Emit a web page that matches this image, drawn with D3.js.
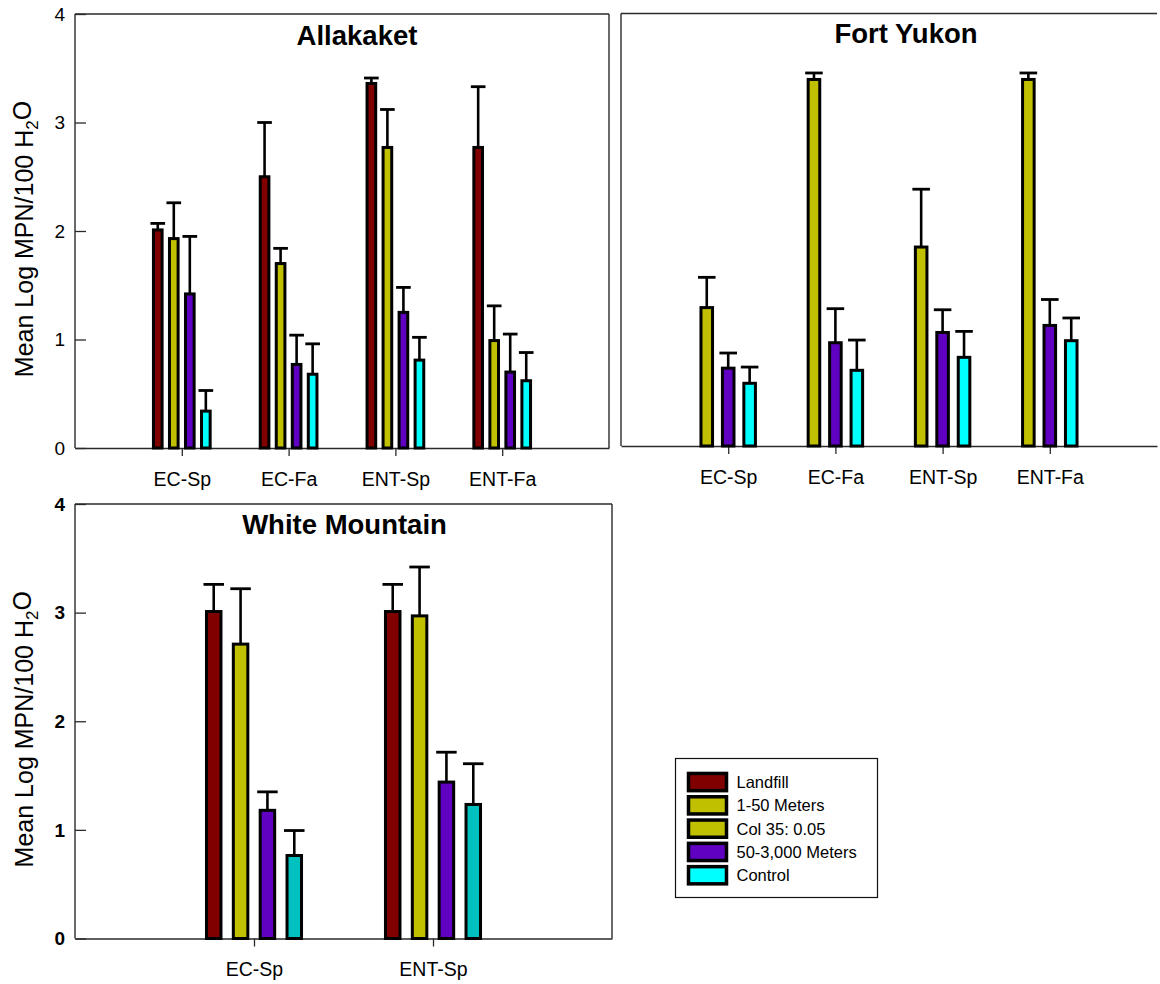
<!DOCTYPE html>
<html>
<head>
<meta charset="utf-8">
<script src="https://cdn.jsdelivr.net/npm/d3@7"></script>
<style>
  body { margin: 0; background: #fff; }
  svg { display: block; }
  text { font-family: "Liberation Sans", Arial, Helvetica, sans-serif; fill: #000; }
</style>
</head>
<body>
<svg id="chart" width="1160" height="984"></svg>
<script>
// ---- data ----
const seriesNames  = ["Landfill", "1-50 Meters", "Col 35: 0.05", "50-3,000 Meters", "Control"];
const seriesColors = ["#800000", "#c0c000", "#c0c000", "#6000c0", "#00ffff"];
const yTicks = [0, 1, 2, 3, 4];

const siteCategories = ["EC-Sp", "EC-Fa", "ENT-Sp", "ENT-Fa"];
const wmCategories   = ["EC-Sp", "ENT-Sp"];

// Allakaket: means and upper error
const allaLandfill    = [2.01, 2.50, 3.36, 2.77];
const allaLandfillErr = [0.06, 0.50, 0.05, 0.56];
const allaNear        = [1.93, 1.70, 2.77, 0.99];
const allaNearErr     = [0.33, 0.14, 0.35, 0.32];
const allaFar         = [1.42, 0.77, 1.25, 0.70];
const allaFarErr      = [0.53, 0.27, 0.23, 0.35];
const allaControl     = [0.34, 0.68, 0.81, 0.62];
const allaControlErr  = [0.19, 0.28, 0.21, 0.26];

// Fort Yukon
const fyNear        = [1.28, 3.39, 1.84, 3.39];
const fyNearErr     = [0.28, 0.06, 0.535, 0.06];
const fyFar         = [0.72, 0.955, 1.05, 1.115];
const fyFarErr      = [0.14, 0.315, 0.21, 0.24];
const fyControl     = [0.58, 0.70, 0.82, 0.974];
const fyControlErr  = [0.15, 0.28, 0.24, 0.21];

// White Mountain
const wmLandfill    = [3.01, 3.01];
const wmLandfillErr = [0.25, 0.25];
const wmNear        = [2.71, 2.97];
const wmNearErr     = [0.51, 0.45];
const wmFar         = [1.18, 1.44];
const wmFarErr      = [0.17, 0.275];
const wmControl     = [0.764, 1.234];
const wmControlErr  = [0.23, 0.375];

// ---- drawing ----
const svg = d3.select("#chart");
const FRAME = "#2a2a2a";

function drawPanel(p) {
  const g = svg.append("g");
  const y = d3.scaleLinear().domain([0, 4]).range([p.bottom, p.top]);
  const x = d3.scaleLinear().domain([0, p.categories.length + 1]).range([p.left, p.right]);
  const step = x(1) - x(0);
  const inner = d3.scaleBand()
    .domain(p.series.map(s => s.name))
    .range([-0.3 * step, 0.3 * step])
    .paddingInner(0.46).paddingOuter(0.23);
  const bw = inner.bandwidth();

  // frame
  g.append("line").attr("x1", p.left).attr("x2", p.right).attr("y1", p.top).attr("y2", p.top)
    .attr("stroke", FRAME).attr("stroke-width", 1.4);
  if (p.rightEdge) {
    g.append("line").attr("x1", p.right).attr("x2", p.right).attr("y1", p.top).attr("y2", p.bottom)
      .attr("stroke", FRAME).attr("stroke-width", 1.4);
  }

  // y axis: inward ticks
  const yAxis = d3.axisRight(y).tickValues(p.showYTicks ? yTicks : []).tickSize(11).tickFormat("");
  const ya = g.append("g").attr("transform", `translate(${p.left},0)`).call(yAxis);
  ya.select(".domain").attr("stroke", FRAME).attr("stroke-width", 1.4).attr("d", `M0,${p.top}V${p.bottom}`);
  ya.selectAll(".tick line").attr("stroke", FRAME).attr("stroke-width", 1.3);

  if (p.showYTicks) {
    g.selectAll("text.ylab").data(yTicks).join("text")
      .attr("class", "ylab")
      .attr("x", p.left - 10).attr("y", d => y(d)).attr("dy", "0.36em")
      .attr("text-anchor", "end")
      .style("font-size", "19px")
      .style("font-weight", p.boldTicks ? "bold" : "normal")
      .text(d => d);

    const lab = g.append("text")
      .attr("transform", `translate(${p.labelX},${(p.top + p.bottom) / 2 + 8}) rotate(-90)`)
      .attr("text-anchor", "middle")
      .style("font-size", "25px");
    lab.append("tspan").text("Mean Log MPN/100 H");
    lab.append("tspan").attr("dy", "0.3em").style("font-size", "17px").text("2");
    lab.append("tspan").attr("dy", "-0.3em").text("O");
  }

  // x axis: outward ticks at category positions
  const xAxis = d3.axisBottom(x)
    .tickValues(d3.range(1, p.categories.length + 1))
    .tickSize(8).tickSizeOuter(0).tickPadding(16)
    .tickFormat(i => p.categories[i - 1]);
  const xa = g.append("g").attr("transform", `translate(0,${p.bottom})`).call(xAxis);
  xa.select(".domain").attr("stroke", FRAME).attr("stroke-width", 1.4);
  xa.selectAll(".tick line").attr("stroke", FRAME).attr("stroke-width", 1.3);
  xa.selectAll(".tick text").style("font-size", "19.5px").style("font-family", "'Liberation Sans', Arial, sans-serif").attr("fill", "#000");

  // bars with upper error bars
  p.series.forEach(s => {
    const sg = g.append("g");
    s.values.forEach((v, i) => {
      const cx = x(i + 1) + inner(s.name) + bw / 2;
      const top = y(v + s.errors[i]);
      const capW = bw + 6;
      sg.append("line").attr("x1", cx).attr("x2", cx).attr("y1", y(v)).attr("y2", top)
        .attr("stroke", "#000").attr("stroke-width", 2.6);
      sg.append("line").attr("x1", cx - capW / 2).attr("x2", cx + capW / 2).attr("y1", top).attr("y2", top)
        .attr("stroke", "#000").attr("stroke-width", 2.8);
      sg.append("rect")
        .attr("x", cx - bw / 2).attr("y", y(v))
        .attr("width", bw).attr("height", y(0) - y(v))
        .attr("fill", s.color).attr("stroke", "#000").attr("stroke-width", 3);
    });
  });

  // title
  g.append("text").attr("x", p.titleX).attr("y", p.titleY)
    .attr("text-anchor", "middle")
    .style("font-size", "27.5px").style("font-weight", "bold")
    .text(p.title);
}

drawPanel({
  title: "Allakaket", titleX: 357, titleY: 45,
  left: 75, right: 609, top: 14, bottom: 448,
  rightEdge: true, showYTicks: true, boldTicks: false, labelX: 33,
  categories: siteCategories,
  series: [
    { name: seriesNames[0], color: seriesColors[0], values: allaLandfill, errors: allaLandfillErr },
    { name: seriesNames[1], color: seriesColors[1], values: allaNear,     errors: allaNearErr },
    { name: seriesNames[3], color: seriesColors[3], values: allaFar,      errors: allaFarErr },
    { name: seriesNames[4], color: seriesColors[4], values: allaControl,  errors: allaControlErr }
  ]
});

drawPanel({
  title: "Fort Yukon", titleX: 906, titleY: 43,
  left: 621, right: 1157, top: 13.5, bottom: 446,
  rightEdge: false, showYTicks: false,
  categories: siteCategories,
  series: [
    { name: seriesNames[1], color: seriesColors[1], values: fyNear,    errors: fyNearErr },
    { name: seriesNames[3], color: seriesColors[3], values: fyFar,     errors: fyFarErr },
    { name: seriesNames[4], color: seriesColors[4], values: fyControl, errors: fyControlErr }
  ]
});

drawPanel({
  title: "White Mountain", titleX: 344.5, titleY: 534,
  left: 75, right: 612, top: 504, bottom: 938.5,
  rightEdge: true, showYTicks: true, boldTicks: true, labelX: 33,
  categories: wmCategories,
  series: [
    { name: seriesNames[0], color: seriesColors[0], values: wmLandfill, errors: wmLandfillErr },
    { name: seriesNames[1], color: seriesColors[1], values: wmNear,     errors: wmNearErr },
    { name: seriesNames[3], color: seriesColors[3], values: wmFar,      errors: wmFarErr },
    { name: seriesNames[4], color: "#00c0c0",       values: wmControl,  errors: wmControlErr }
  ]
});

// legend
const leg = svg.append("g");
leg.append("rect").attr("x", 675.5).attr("y", 758.5).attr("width", 202).attr("height", 139)
  .attr("fill", "#fff").attr("stroke", "#111").attr("stroke-width", 1.2);
const legRows = leg.selectAll("g.row").data(seriesNames).join("g")
  .attr("class", "row")
  .attr("transform", (d, i) => `translate(0,${771.7 + i * 23.3})`);
legRows.append("rect")
  .attr("x", 688.5).attr("y", 1.75).attr("width", 38).attr("height", 17.2)
  .attr("fill", (d, i) => seriesColors[i]).attr("stroke", "#000").attr("stroke-width", 3.5);
legRows.append("text")
  .attr("x", 736.5).attr("y", 10.3).attr("dy", "0.36em")
  .style("font-size", "16.5px")
  .text(d => d);
</script>
</body>
</html>
